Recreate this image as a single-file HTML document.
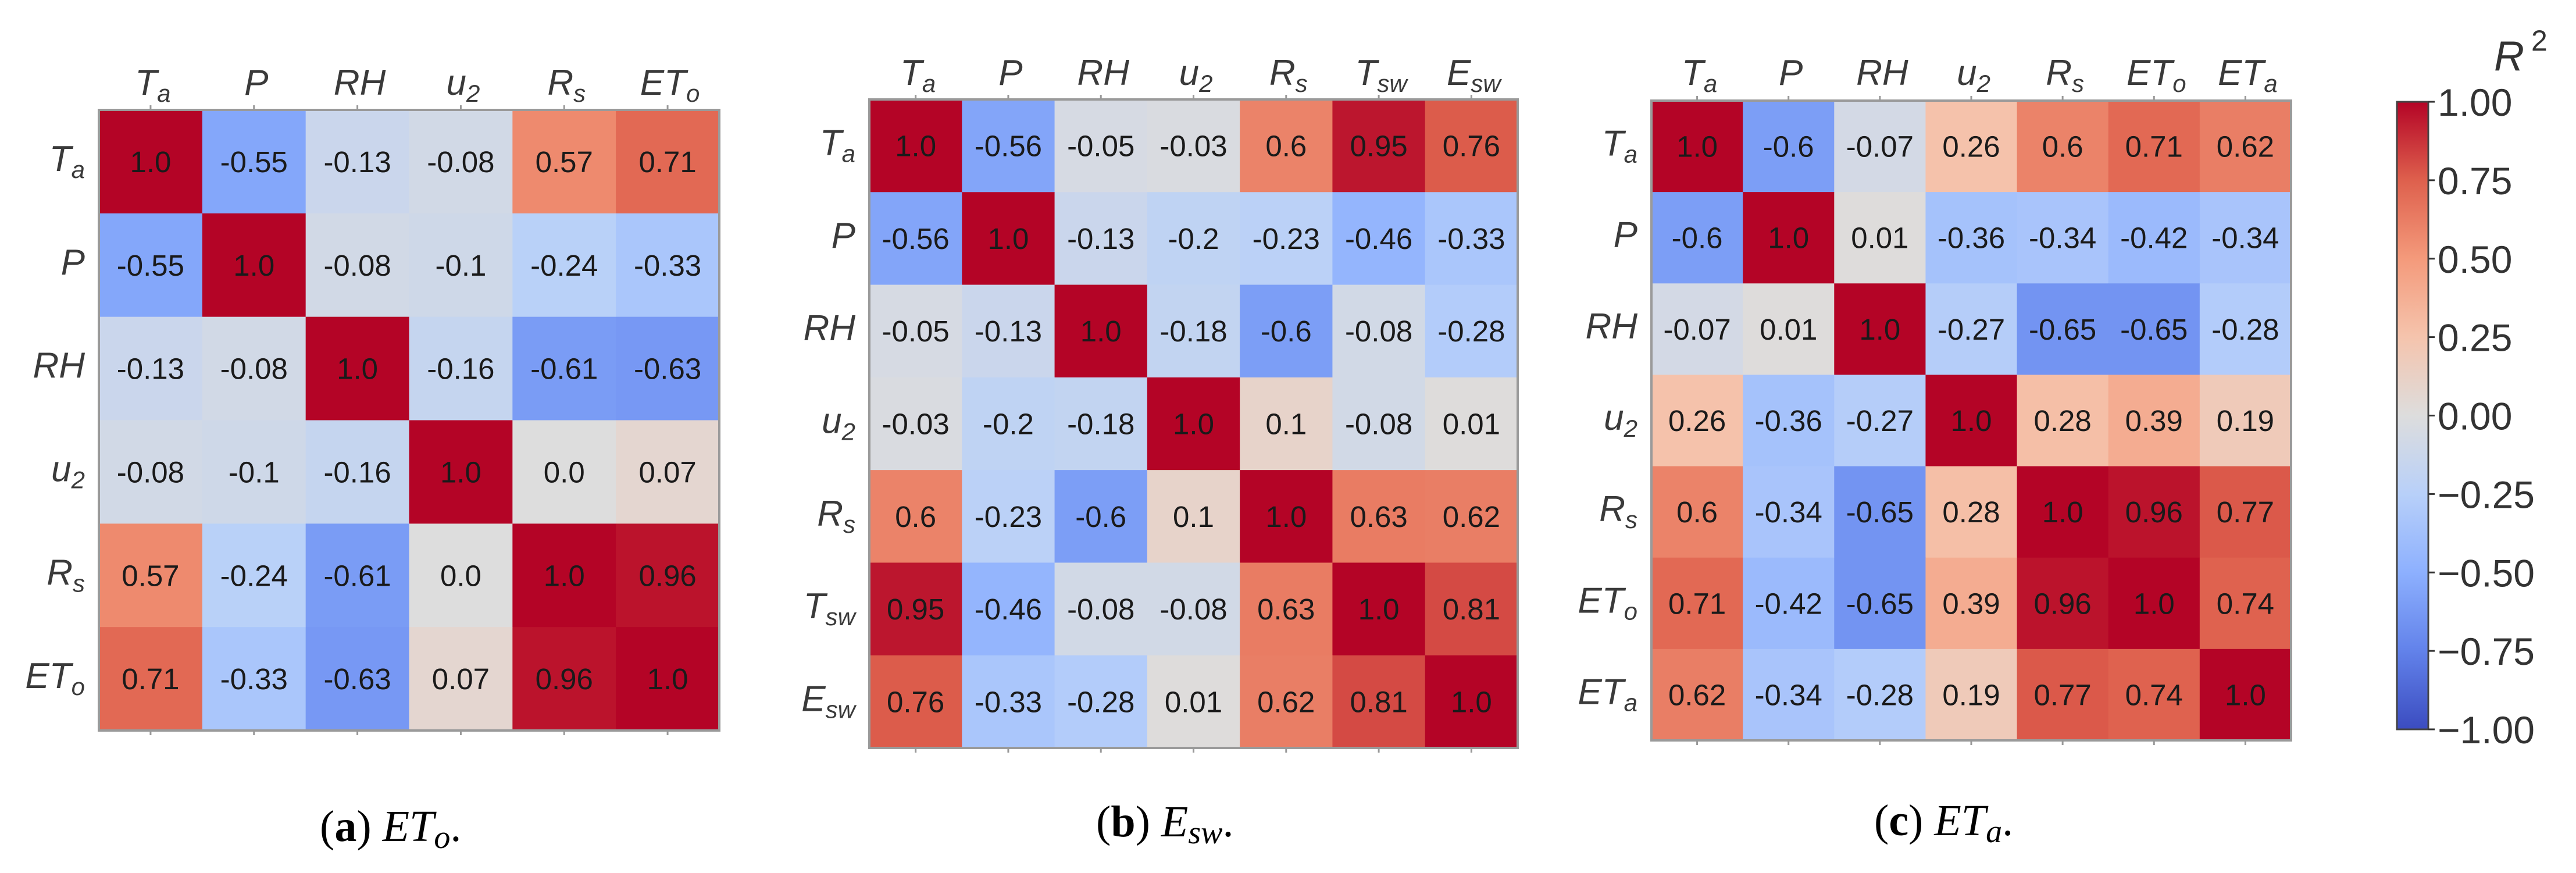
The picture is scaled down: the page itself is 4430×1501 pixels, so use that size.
<!DOCTYPE html>
<html><head><meta charset="utf-8">
<style>
html,body{margin:0;padding:0;background:#fff;}
svg{display:block;}
.lab{font-family:"Liberation Sans",sans-serif;font-style:italic;fill:#3a3a3a;}
.cell-text{font-family:"Liberation Sans",sans-serif;fill:#1a1a1a;}
.cap{font-family:"Liberation Serif",serif;fill:#000;}
.cbt{font-family:"Liberation Sans",sans-serif;fill:#333;}
</style></head>
<body>
<svg id="fig" xmlns="http://www.w3.org/2000/svg" width="4430" height="1501" viewBox="0 0 4430 1501">
<defs>
<linearGradient id="cwgrad" x1="0" y1="1" x2="0" y2="0">
<stop offset="0" stop-color="rgb(59,76,192)"/>
<stop offset="0.125" stop-color="rgb(98,130,234)"/>
<stop offset="0.25" stop-color="rgb(141,176,254)"/>
<stop offset="0.375" stop-color="rgb(184,208,249)"/>
<stop offset="0.5" stop-color="rgb(221,221,221)"/>
<stop offset="0.625" stop-color="rgb(245,196,173)"/>
<stop offset="0.75" stop-color="rgb(244,154,123)"/>
<stop offset="0.875" stop-color="rgb(222,96,77)"/>
<stop offset="1" stop-color="rgb(180,4,38)"/>
</linearGradient>
</defs>
</svg>
<script>
// Panel (a) ETo
const labelsA = [["T","a"],["P",""],["RH",""],["u","2"],["R","s"],["ET","o"]];
const valuesA = [
 [1.0,-0.55,-0.13,-0.08,0.57,0.71],
 [-0.55,1.0,-0.08,-0.1,-0.24,-0.33],
 [-0.13,-0.08,1.0,-0.16,-0.61,-0.63],
 [-0.08,-0.1,-0.16,1.0,0.0,0.07],
 [0.57,-0.24,-0.61,0.0,1.0,0.96],
 [0.71,-0.33,-0.63,0.07,0.96,1.0]
];
// Panel (b) Esw
const labelsB = [["T","a"],["P",""],["RH",""],["u","2"],["R","s"],["T","sw"],["E","sw"]];
const valuesB = [
 [1.0,-0.56,-0.05,-0.03,0.6,0.95,0.76],
 [-0.56,1.0,-0.13,-0.2,-0.23,-0.46,-0.33],
 [-0.05,-0.13,1.0,-0.18,-0.6,-0.08,-0.28],
 [-0.03,-0.2,-0.18,1.0,0.1,-0.08,0.01],
 [0.6,-0.23,-0.6,0.1,1.0,0.63,0.62],
 [0.95,-0.46,-0.08,-0.08,0.63,1.0,0.81],
 [0.76,-0.33,-0.28,0.01,0.62,0.81,1.0]
];
// Panel (c) ETa
const labelsC = [["T","a"],["P",""],["RH",""],["u","2"],["R","s"],["ET","o"],["ET","a"]];
const valuesC = [
 [1.0,-0.6,-0.07,0.26,0.6,0.71,0.62],
 [-0.6,1.0,0.01,-0.36,-0.34,-0.42,-0.34],
 [-0.07,0.01,1.0,-0.27,-0.65,-0.65,-0.28],
 [0.26,-0.36,-0.27,1.0,0.28,0.39,0.19],
 [0.6,-0.34,-0.65,0.28,1.0,0.96,0.77],
 [0.71,-0.42,-0.65,0.39,0.96,1.0,0.74],
 [0.62,-0.34,-0.28,0.19,0.77,0.74,1.0]
];
const cbTicks = [1.0,0.75,0.5,0.25,0.0,-0.25,-0.5,-0.75,-1.0];
const cbTickLabels = ["1.00","0.75","0.50","0.25","0.00","\u22120.25","\u22120.50","\u22120.75","\u22121.00"];

const NS="http://www.w3.org/2000/svg";
const svg=document.getElementById('fig');
const stops=[[59,76,192],[98,130,234],[141,176,254],[184,208,249],[221,221,221],[245,196,173],[244,154,123],[222,96,77],[180,4,38]];
function cw(v){
  let t=(v+1)/2*8; t=Math.max(0,Math.min(8,t));
  const i=Math.min(7,Math.floor(t)), f=t-i;
  const a=stops[i], b=stops[i+1];
  return 'rgb('+a.map((c,k)=>Math.round(c+(b[k]-c)*f)).join(',')+')';
}
function mk(tag,attrs,parent){
  const e=document.createElementNS(NS,tag);
  for(const k in attrs) e.setAttribute(k,attrs[k]);
  (parent||svg).appendChild(e);
  return e;
}
function fmt(v){
  if(Number.isInteger(v)) return v.toFixed(1);
  return String(v);
}
function addLabel(g,lab,x,y,anchor,name){
  const t=mk('text',{x:x,y:y,'text-anchor':anchor,'font-size':62,class:'lab'},g);
  
  
  t.appendChild(document.createTextNode(lab[0]));
  if(lab[1]){
    const s=mk('tspan',{'font-size':42,dy:12},t);
    s.textContent=lab[1];
  }
  return t;
}
function heatmap(id,labels,values,x0,y0,size,labelBase){
  const n=labels.length, cs=size/n;
  const g=mk('g',{});
  
  
  const X=i=>x0+i*cs, Y=j=>y0+j*cs;
  for(let r=0;r<n;r++){
    for(let c=0;c<n;c++){
      const v=values[r][c];
      const rc=mk('rect',{x:X(c),y:Y(r),width:cs+0.5,height:cs+0.5,fill:cw(v)},g);
      
      
      const t=mk('text',{x:X(c)+cs/2,y:Y(r)+cs/2+18,'text-anchor':'middle','font-size':51,class:'cell-text'},g);
      
      
      t.textContent=fmt(v);
    }
  }
  mk('rect',{x:x0,y:y0,width:size,height:size,fill:'none',stroke:'#9a9a9a','stroke-width':4},g);
  for(let i=0;i<n;i++){
    const cx=X(i)+cs/2;
    mk('line',{x1:cx,y1:y0-8,x2:cx,y2:y0,stroke:'#999','stroke-width':3},g);
    mk('line',{x1:cx,y1:y0+size,x2:cx,y2:y0+size+8,stroke:'#999','stroke-width':3},g);
    addLabel(g,labels[i],cx+4,labelBase,'middle','x-tick-label');
    addLabel(g,labels[i],x0-24,Y(i)+cs/2+16,'end','y-tick-label');
  }
}
heatmap('heatmap-eto',labelsA,valuesA,170,189,1067,163);
heatmap('heatmap-esw',labelsB,valuesB,1495,171,1115,146);
heatmap('heatmap-eta',labelsC,valuesC,2840,173,1100,146);

function caption(x,y,letter,main,sub,name){
  const t=mk('text',{x:x,y:y,'font-size':76,class:'cap'});
  
  
  t.appendChild(document.createTextNode('('));
  const b=mk('tspan',{'font-weight':'bold'},t); b.textContent=letter;
  t.appendChild(document.createTextNode(') '));
  const m=mk('tspan',{'font-style':'italic'},t); m.textContent=main;
  const s=mk('tspan',{'font-style':'italic','font-size':56,dy:12},t); s.textContent=sub;
  const d=mk('tspan',{dy:-12},t); d.textContent='.';
}
caption(550,1446,'a','ET','o','caption-a');
caption(1885,1438,'b','E','sw','caption-b');
caption(3223,1436,'c','ET','a','caption-c');

// colorbar
const cbX=4122, cbW=54, cbTop=175, cbBot=1254;
const cbg=mk('g',{});


mk('rect',{x:cbX,y:cbTop,width:cbW,height:cbBot-cbTop,fill:'url(#cwgrad)',stroke:'#444','stroke-width':3},cbg);
const cbY=v=>cbBot-(v+1)/2*(cbBot-cbTop);
cbTicks.forEach((v,i)=>{
  const y=cbY(v);
  mk('line',{x1:cbX+cbW,y1:y,x2:cbX+cbW+11,y2:y,stroke:'#333','stroke-width':3},cbg);
  const t=mk('text',{x:cbX+cbW+16,y:y+24,'font-size':66,class:'cbt'},cbg);
  
  
  t.textContent=cbTickLabels[i];
});
const rt=mk('text',{x:4289,y:121,'font-size':72,class:'cbt','font-style':'italic'});


rt.appendChild(document.createTextNode('R'));
const sup=mk('tspan',{'font-size':50,dy:-34,dx:12,'font-style':'normal'},rt); sup.textContent='2';
</script>
</body></html>
